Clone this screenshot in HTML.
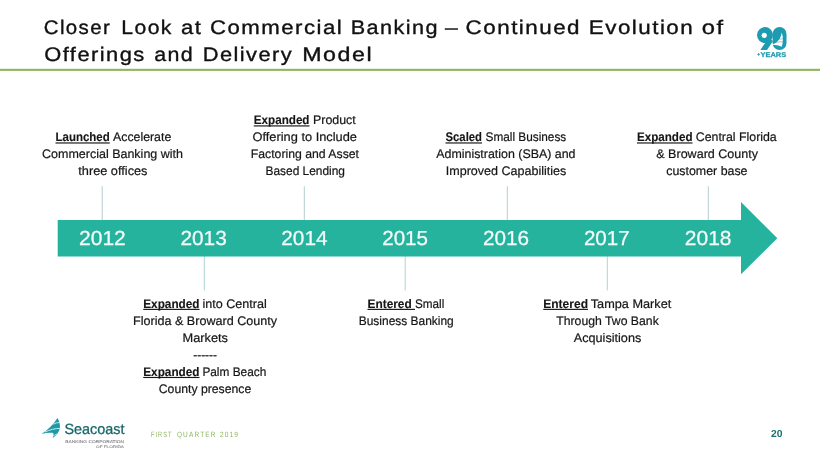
<!DOCTYPE html>
<html lang="en">
<head>
<meta charset="utf-8">
<title>Closer Look at Commercial Banking</title>
<style>
html,body{margin:0;padding:0;background:#fff;}
body{width:820px;height:461px;overflow:hidden;position:relative;font-family:"Liberation Sans",Arial,sans-serif;}
</style>
</head>
<body>
<svg width="820" height="461" viewBox="0 0 820 461" font-family="'Liberation Sans', Arial, sans-serif" text-rendering="geometricPrecision" style="position:absolute;left:0;top:0">
<rect x="0" y="0" width="820" height="461" fill="#ffffff"/>
<!-- title rule -->
<rect x="0" y="68.8" width="820" height="2.1" fill="#8fb562"/>
<rect x="101.7" y="186.3" width="1" height="34" fill="#b5cdd1"/>
<rect x="203.8" y="256" width="1" height="34.4" fill="#afd6d0"/>
<rect x="303.8" y="186.3" width="1" height="34" fill="#b5cdd1"/>
<rect x="404.7" y="256" width="1" height="34.4" fill="#afd6d0"/>
<rect x="506.8" y="186.3" width="1" height="34" fill="#b5cdd1"/>
<rect x="606.8" y="256" width="1" height="34.4" fill="#afd6d0"/>
<rect x="707.8" y="186.3" width="1" height="34" fill="#b5cdd1"/>

<!-- arrow -->
<polygon points="57.7,220 741,220 741,202.1 777.3,238.2 741,274.3 741,256.4 57.7,256.4" fill="#25b39e"/>
<text x="79.0" y="245.2" font-size="20.3" fill="#f4fbfa" stroke="#f4fbfa" stroke-width="0.25" textLength="46.8" lengthAdjust="spacingAndGlyphs">2012</text>
<text x="180.4" y="245.2" font-size="20.3" fill="#f4fbfa" stroke="#f4fbfa" stroke-width="0.25" textLength="46.4" lengthAdjust="spacingAndGlyphs">2013</text>
<text x="281.3" y="245.2" font-size="20.3" fill="#f4fbfa" stroke="#f4fbfa" stroke-width="0.25" textLength="46.3" lengthAdjust="spacingAndGlyphs">2014</text>
<text x="382.2" y="245.2" font-size="20.3" fill="#f4fbfa" stroke="#f4fbfa" stroke-width="0.25" textLength="45.8" lengthAdjust="spacingAndGlyphs">2015</text>
<text x="483.0" y="245.2" font-size="20.3" fill="#f4fbfa" stroke="#f4fbfa" stroke-width="0.25" textLength="46.1" lengthAdjust="spacingAndGlyphs">2016</text>
<text x="583.9" y="245.2" font-size="20.3" fill="#f4fbfa" stroke="#f4fbfa" stroke-width="0.25" textLength="45.7" lengthAdjust="spacingAndGlyphs">2017</text>
<text x="684.8" y="245.2" font-size="20.3" fill="#f4fbfa" stroke="#f4fbfa" stroke-width="0.25" textLength="46.7" lengthAdjust="spacingAndGlyphs">2018</text>

<text y="34.3" font-size="19.6" fill="#111" stroke="#111" stroke-width="0.35" letter-spacing="1.3"><tspan x="43.87" textLength="67.2" lengthAdjust="spacingAndGlyphs">Closer</tspan> <tspan x="121.39" textLength="51.49" lengthAdjust="spacingAndGlyphs">Look</tspan> <tspan x="181.05" textLength="21.45" lengthAdjust="spacingAndGlyphs">at</tspan> <tspan x="210.0" textLength="133.16" lengthAdjust="spacingAndGlyphs">Commercial</tspan> <tspan x="350.68" textLength="88.2" lengthAdjust="spacingAndGlyphs">Banking</tspan> <tspan x="445.14" textLength="14.28" lengthAdjust="spacingAndGlyphs">–</tspan> <tspan x="465.62" textLength="115.43" lengthAdjust="spacingAndGlyphs">Continued</tspan> <tspan x="588.81" textLength="105.42" lengthAdjust="spacingAndGlyphs">Evolution</tspan> <tspan x="701.78" textLength="22.99" lengthAdjust="spacingAndGlyphs">of</tspan></text>
<text y="61.2" font-size="19.6" fill="#111" stroke="#111" stroke-width="0.35" letter-spacing="1.3"><tspan x="44.27" textLength="101.44" lengthAdjust="spacingAndGlyphs">Offerings</tspan> <tspan x="154.21" textLength="40.0" lengthAdjust="spacingAndGlyphs">and</tspan> <tspan x="202.69" textLength="90.45" lengthAdjust="spacingAndGlyphs">Delivery</tspan> <tspan x="302.18" textLength="70.95" lengthAdjust="spacingAndGlyphs">Model</tspan></text>
<text x="55.5" y="141.1" font-size="12.4" font-weight="700" fill="#151515" stroke="#151515" stroke-width="0.12" textLength="54.3" lengthAdjust="spacingAndGlyphs">Launched</text>
<text x="113" y="141.1" font-size="12.4" fill="#151515" stroke="#151515" stroke-width="0.2" textLength="58.25" lengthAdjust="spacingAndGlyphs">Accelerate</text>
<rect x="55.5" y="142.4" width="54.3" height="1.15" fill="#151515"/>
<text x="42" y="158.1" font-size="12.4" fill="#151515" stroke="#151515" stroke-width="0.2" textLength="141" lengthAdjust="spacingAndGlyphs" >Commercial Banking with</text>
<text x="78.25" y="175.05" font-size="12.4" fill="#151515" stroke="#151515" stroke-width="0.2" textLength="69.25" lengthAdjust="spacingAndGlyphs" >three offices</text>
<text x="253.75" y="124.05" font-size="12.4" font-weight="700" fill="#151515" stroke="#151515" stroke-width="0.12" textLength="55.75" lengthAdjust="spacingAndGlyphs">Expanded</text>
<text x="313" y="124.05" font-size="12.4" fill="#151515" stroke="#151515" stroke-width="0.2" textLength="42.75" lengthAdjust="spacingAndGlyphs">Product</text>
<rect x="253.75" y="125.35" width="55.75" height="1.15" fill="#151515"/>
<text x="252.5" y="141.1" font-size="12.4" fill="#151515" stroke="#151515" stroke-width="0.2" textLength="104.5" lengthAdjust="spacingAndGlyphs" >Offering to Include</text>
<text x="250.75" y="158.1" font-size="12.4" fill="#151515" stroke="#151515" stroke-width="0.2" textLength="108.25" lengthAdjust="spacingAndGlyphs" >Factoring and Asset</text>
<text x="265.5" y="175.05" font-size="12.4" fill="#151515" stroke="#151515" stroke-width="0.2" textLength="79.5" lengthAdjust="spacingAndGlyphs" >Based Lending</text>
<text x="445.5" y="141.1" font-size="12.4" font-weight="700" fill="#151515" stroke="#151515" stroke-width="0.12" textLength="36.5" lengthAdjust="spacingAndGlyphs">Scaled</text>
<text x="485.5" y="141.1" font-size="12.4" fill="#151515" stroke="#151515" stroke-width="0.2" textLength="80.75" lengthAdjust="spacingAndGlyphs">Small Business</text>
<rect x="445.5" y="142.4" width="36.5" height="1.15" fill="#151515"/>
<text x="436.25" y="158.1" font-size="12.4" fill="#151515" stroke="#151515" stroke-width="0.2" textLength="139.25" lengthAdjust="spacingAndGlyphs" >Administration (SBA) and</text>
<text x="445.75" y="175.05" font-size="12.4" fill="#151515" stroke="#151515" stroke-width="0.2" textLength="120.5" lengthAdjust="spacingAndGlyphs" >Improved Capabilities</text>
<text x="637" y="141.1" font-size="12.4" font-weight="700" fill="#151515" stroke="#151515" stroke-width="0.12" textLength="55.5" lengthAdjust="spacingAndGlyphs">Expanded</text>
<text x="695.75" y="141.1" font-size="12.4" fill="#151515" stroke="#151515" stroke-width="0.2" textLength="81.0" lengthAdjust="spacingAndGlyphs">Central Florida</text>
<rect x="637" y="142.4" width="55.5" height="1.15" fill="#151515"/>
<text x="656.25" y="158.1" font-size="12.4" fill="#151515" stroke="#151515" stroke-width="0.2" textLength="101.75" lengthAdjust="spacingAndGlyphs" >&amp; Broward County</text>
<text x="666.25" y="175.05" font-size="12.4" fill="#151515" stroke="#151515" stroke-width="0.2" textLength="81.25" lengthAdjust="spacingAndGlyphs" >customer base</text>
<text x="143.25" y="307.5" font-size="12.4" font-weight="700" fill="#151515" stroke="#151515" stroke-width="0.12" textLength="56.25" lengthAdjust="spacingAndGlyphs">Expanded</text>
<text x="202.4" y="307.5" font-size="12.4" fill="#151515" stroke="#151515" stroke-width="0.2" textLength="64.35" lengthAdjust="spacingAndGlyphs">into Central</text>
<rect x="143.25" y="308.8" width="56.25" height="1.15" fill="#151515"/>
<text x="133" y="324.5" font-size="12.4" fill="#151515" stroke="#151515" stroke-width="0.2" textLength="144" lengthAdjust="spacingAndGlyphs" >Florida &amp; Broward County</text>
<text x="182.5" y="341.5" font-size="12.4" fill="#151515" stroke="#151515" stroke-width="0.2" textLength="45.5" lengthAdjust="spacingAndGlyphs" >Markets</text>
<text x="193.25" y="358.6" font-size="12.4" fill="#151515" stroke="#151515" stroke-width="0.2" textLength="23.75" lengthAdjust="spacingAndGlyphs" >------</text>
<text x="143.25" y="375.6" font-size="12.4" font-weight="700" fill="#151515" stroke="#151515" stroke-width="0.12" textLength="56.25" lengthAdjust="spacingAndGlyphs">Expanded</text>
<text x="202.4" y="375.6" font-size="12.4" fill="#151515" stroke="#151515" stroke-width="0.2" textLength="63.85" lengthAdjust="spacingAndGlyphs">Palm Beach</text>
<rect x="143.25" y="376.9" width="56.25" height="1.15" fill="#151515"/>
<text x="158.75" y="392.6" font-size="12.4" fill="#151515" stroke="#151515" stroke-width="0.2" textLength="92.5" lengthAdjust="spacingAndGlyphs" >County presence</text>
<text x="367.5" y="307.5" font-size="12.4" font-weight="700" fill="#151515" stroke="#151515" stroke-width="0.12" textLength="44.25" lengthAdjust="spacingAndGlyphs">Entered</text>
<text x="415" y="307.5" font-size="12.4" fill="#151515" stroke="#151515" stroke-width="0.2" textLength="29.25" lengthAdjust="spacingAndGlyphs">Small</text>
<rect x="367.5" y="308.8" width="47.5" height="1.15" fill="#151515"/>
<text x="358.75" y="324.5" font-size="12.4" fill="#151515" stroke="#151515" stroke-width="0.2" textLength="95.0" lengthAdjust="spacingAndGlyphs" >Business Banking</text>
<text x="543.25" y="307.5" font-size="12.4" font-weight="700" fill="#151515" stroke="#151515" stroke-width="0.12" textLength="44.75" lengthAdjust="spacingAndGlyphs">Entered</text>
<text x="590.75" y="307.5" font-size="12.4" fill="#151515" stroke="#151515" stroke-width="0.2" textLength="80.5" lengthAdjust="spacingAndGlyphs">Tampa Market</text>
<rect x="543.25" y="308.8" width="44.75" height="1.15" fill="#151515"/>
<text x="556.25" y="324.5" font-size="12.4" fill="#151515" stroke="#151515" stroke-width="0.2" textLength="102.5" lengthAdjust="spacingAndGlyphs" >Through Two Bank</text>
<text x="573.75" y="341.5" font-size="12.4" fill="#151515" stroke="#151515" stroke-width="0.2" textLength="67.5" lengthAdjust="spacingAndGlyphs" >Acquisitions</text>

<!-- footer -->
<text y="437.2" font-size="7.6" fill="#8db45f" letter-spacing="1.3"><tspan x="151" textLength="21.3" lengthAdjust="spacingAndGlyphs">FIRST</tspan> <tspan x="176.9" textLength="39.7" lengthAdjust="spacingAndGlyphs">QUARTER</tspan> <tspan x="219.9" textLength="19.2" lengthAdjust="spacingAndGlyphs">2019</tspan></text>
<text x="771.0" y="436.9" font-size="10.2" font-weight="700" fill="#1b6f70" textLength="11.5" lengthAdjust="spacingAndGlyphs">20</text>
<!-- seacoast logo -->
<g id="seacoast">
<path d="M57.5 418.1 C58.8 420 59.8 423.5 60 426.3 C60.2 430 57.5 435 52.7 437.9 C53.6 436 53.8 434.2 53.2 432.9 C49.5 432.3 45.5 432.8 41.7 433.9 C48 429.6 53.6 424.4 57.5 418.1 Z" fill="#1f99a6"/>
<path d="M52.8 424.3 C55 423.2 57.3 422.6 59.7 422.4" stroke="#b8f0f0" stroke-width="0.95" fill="none"/>
<path d="M45 432 C50 429.6 55 428.5 60.2 428.3" stroke="#b8f0f0" stroke-width="1" fill="none"/>
<path d="M53.4 435.9 C54.5 435 55.8 434.3 57.2 433.8" stroke="#b8f0f0" stroke-width="0.85" fill="none"/>
<text x="64.5" y="434.4" font-size="14.8" fill="#1a6869" stroke="#1a6869" stroke-width="0.3" textLength="60" lengthAdjust="spacingAndGlyphs">Seacoast</text>
<text x="65.3" y="442.8" font-size="3.9" fill="#85858a" stroke="#85858a" stroke-width="0.1" textLength="58.8" lengthAdjust="spacingAndGlyphs">BANKING CORPORATION</text>
<text x="96" y="447.9" font-size="3.5" fill="#85858a" stroke="#85858a" stroke-width="0.1" textLength="28" lengthAdjust="spacingAndGlyphs">OF FLORIDA</text>
</g>
<!-- 90 years logo -->
<g id="ninety">
<rect x="772.6" y="27.1" width="13.9" height="22.9" rx="6.9" ry="6.9" fill="#1d9bb1"/>
<circle cx="765" cy="35.1" r="8" fill="#1d9bb1"/>
<polygon points="768.4,38 773,41 767,50 760.4,50" fill="#1d9bb1"/>
<circle cx="764.2" cy="35.3" r="2.6" fill="#ffffff"/>
<path d="M781.7 32.6 C783.2 36.4 783.4 42.2 781.8 46.7 C779.2 45.4 775.6 44.7 772 44.7 C777.8 42.6 780.9 38.6 781.7 32.6 Z" fill="#ffffff"/>
<path d="M776.8 40 C778.8 39.1 781 38.8 783 38.8" stroke="#1d9bb1" stroke-width="0.5" fill="none"/>
<path d="M774.8 42.7 C777.4 41.9 780.4 41.7 783 41.9" stroke="#1d9bb1" stroke-width="0.5" fill="none"/>
<text y="56.7" font-size="6.8" font-weight="700" fill="#1d9bb1" stroke="#1d9bb1" stroke-width="0.25"><tspan x="757.2" font-size="5" dy="-0.4" textLength="2.9" lengthAdjust="spacingAndGlyphs">+</tspan><tspan x="760.4" dy="0.4" textLength="25.9" lengthAdjust="spacingAndGlyphs">YEARS</tspan></text>
</g>
</svg>
</body>
</html>
